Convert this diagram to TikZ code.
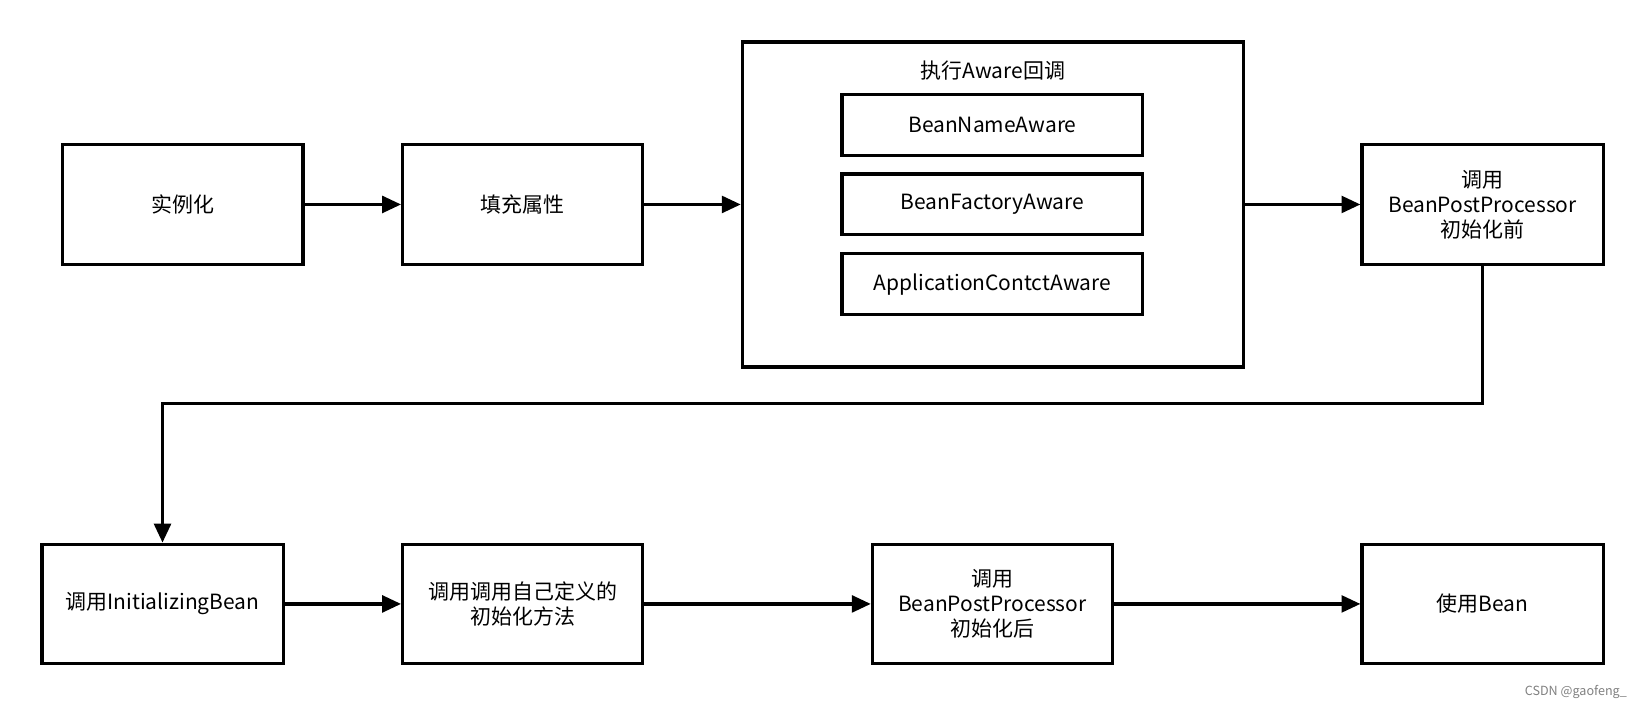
\documentclass[tikz,border=0pt]{standalone}
\usepackage{fontspec}
\setmainfont{Noto Sans CJK SC}
\usetikzlibrary{arrows.meta}
\begin{document}
\begin{tikzpicture}[x=0.5pt,y=-0.5pt,
 box/.style={draw,line width=1.5pt,inner sep=0pt,align=center,font=\fontsize{10}{12}\selectfont},
 arr/.style={line width=1.5pt,-{Triangle[length=9pt,width=8pt]}}]
\useasboundingbox (0,0) rectangle (1568,676);
\newcommand\bx[6]{\node[box,minimum width=#3*0.5pt-#2*0.5pt,minimum height=#5*0.5pt-#4*0.5pt] (#1) at ({(#2+#3)/2},{(#4+#5)/2}) {#6};}
\bx{a}{60}{289}{138}{252}{实例化}
\bx{b}{384}{613}{138}{252}{填充属性}
\bx{c}{708}{1186}{40}{350}{}
\node[font=\fontsize{10}{12}\selectfont] (ct) at (947,67) {执行Aware回调};
\bx{c1}{803}{1090}{90}{148}{BeanNameAware}
\bx{c2}{803}{1090}{166}{224}{BeanFactoryAware}
\bx{c3}{803}{1090}{242}{300}{ApplicationContctAware}
\bx{d}{1299}{1529}{138}{252}{调用\\BeanPostProcessor\\初始化前}
\bx{e}{40}{270}{519}{633}{调用InitializingBean}
\bx{f}{384}{613}{519}{633}{调用调用自己定义的\\初始化方法}
\bx{g}{832}{1061}{519}{633}{调用\\BeanPostProcessor\\初始化后}
\bx{h}{1299}{1529}{519}{633}{使用Bean}
\draw[arr] (a) -- (b);
\draw[arr] (b) -- (c);
\draw[arr] (c) -- (d);
\draw[arr] (d.south) |- (785,385) -| (e.north -| 155,0);
\draw[arr] (e) -- (f);
\draw[arr] (f) -- (g);
\draw[arr] (g) -- (h);
\node[text=gray,font=\fontsize{6}{7}\selectfont] (w) at (1503,660) {CSDN @gaofeng\_};
\end{tikzpicture}
\end{document}
